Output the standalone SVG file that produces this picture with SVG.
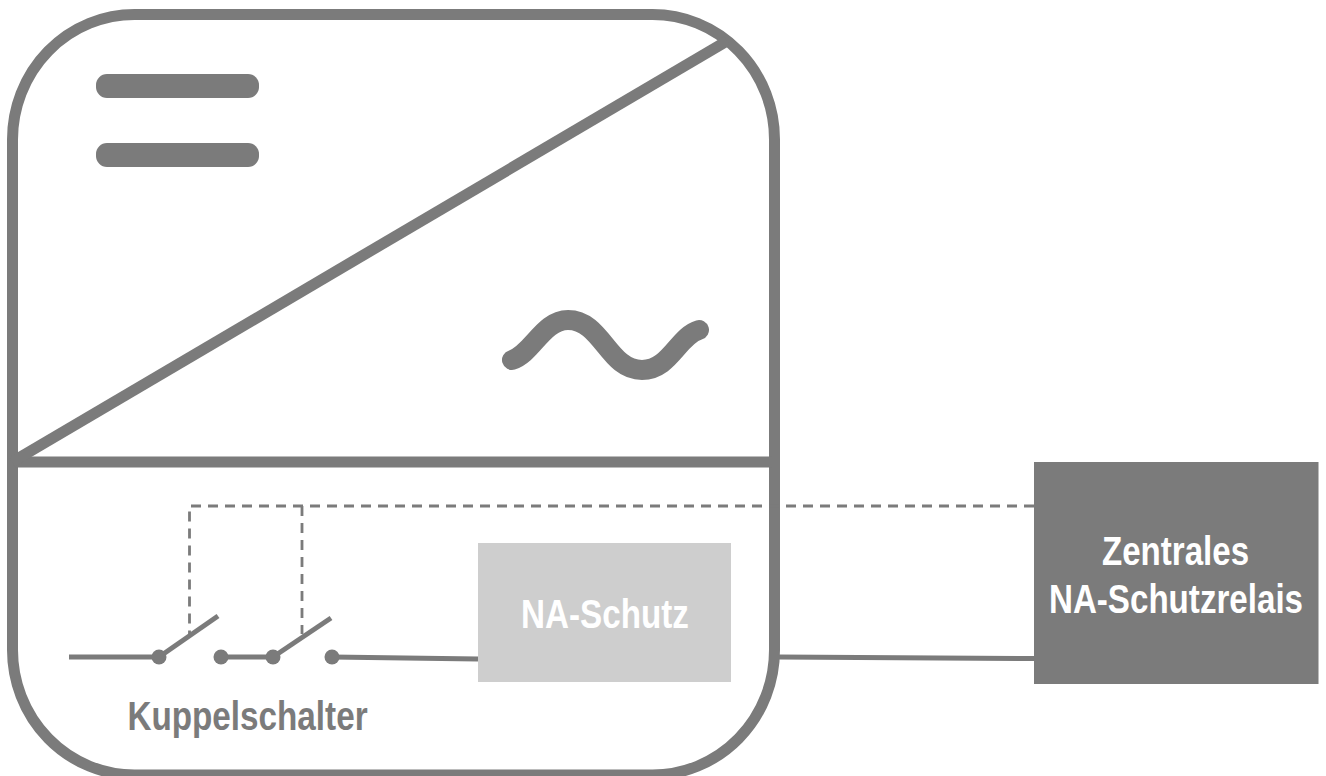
<svg xmlns="http://www.w3.org/2000/svg" width="1326" height="776" viewBox="0 0 1326 776">
<style>
.l{fill:none;stroke:#7b7b7b;stroke-width:11}
.w{fill:none;stroke:#7b7b7b;stroke-width:5}
.d{fill:none;stroke:#7b7b7b;stroke-width:2.8;stroke-dasharray:10 7}
.p{fill:#7b7b7b}
text{font-family:"Liberation Sans",Arial,sans-serif;font-weight:700;text-anchor:middle;font-size:40px}
</style>
<rect width="1326" height="776" fill="#fff"/>
<g id="inverter">
<rect x="12.500" y="14.500" width="762" height="760.500" rx="122" ry="125" class="l"/>
<path class="l" d="M15 462H772"/>
<path class="l" d="M12 462L727 41"/>
<rect x="96" y="74" width="163" height="24" rx="11" class="p"/>
<rect x="96" y="143" width="163" height="24" rx="11" class="p"/>
<path d="M512 360C532 354 543 320 568 320C602 320 608 370 642 370C670 370 678 336 699 330" fill="none" stroke="#7b7b7b" stroke-width="20" stroke-linecap="round"/>
</g>
<g id="connectors">
<path class="d" d="M1034 506H189.500V634"/>
<path class="d" d="M302 506V634"/>
<path class="w" d="M69 657H159"/>
<path class="w" d="M221 657H273"/>
<path class="w" d="M332 657L478 659"/>
<path class="w" d="M779 657L1034 658.500"/>
<path class="w" d="M159 657L218 616"/>
<path class="w" d="M273 657L331 618"/>
</g>
<g id="switch1">
<circle cx="159" cy="657" r="7.500" class="p"/>
<circle cx="221" cy="657" r="7.500" class="p"/>
</g>
<g id="switch2">
<circle cx="273" cy="657" r="7.500" class="p"/>
<circle cx="332" cy="657" r="7.500" class="p"/>
<text transform="translate(247.500 730) scale(.87 1)" fill="#7b7b7b" textLength="276" lengthAdjust="spacingAndGlyphs">Kuppelschalter</text>
</g>
<g id="na-schutz">
<rect x="478" y="543" width="253" height="139" fill="#cecece"/>
<text transform="translate(605 628) scale(.87 1)" fill="#fff" textLength="193" lengthAdjust="spacingAndGlyphs">NA-Schutz</text>
</g>
<g id="relais">
<rect x="1034" y="462" width="284.500" height="222" fill="#7b7b7b"/>
<text transform="translate(1175.500 564.500) scale(.87 1)" fill="#fff" textLength="169" lengthAdjust="spacingAndGlyphs">Zentrales</text>
<text transform="translate(1176 613) scale(.87 1)" fill="#fff" textLength="292" lengthAdjust="spacingAndGlyphs">NA-Schutzrelais</text>
</g>
</svg>
